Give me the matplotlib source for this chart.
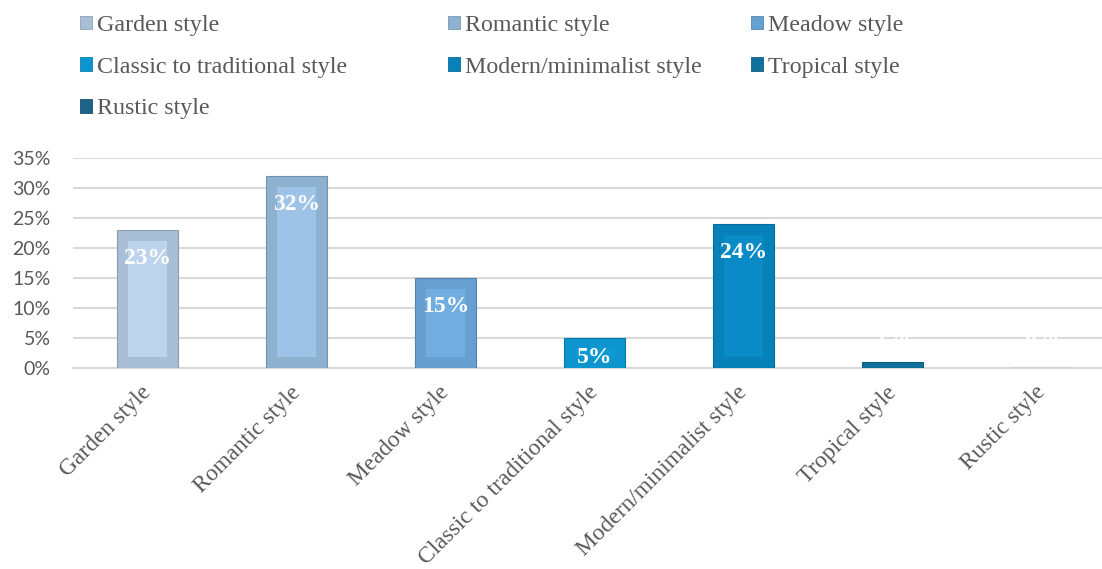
import matplotlib
matplotlib.use("Agg")
import matplotlib.pyplot as plt
import matplotlib.colors as mcolors
import matplotlib.transforms as mtransforms
from matplotlib.patches import Patch
from matplotlib.ticker import FuncFormatter

# Survey: preferred garden style (share of respondents, %)
categories = [
    "Garden style",
    "Romantic style",
    "Meadow style",
    "Classic to traditional style",
    "Modern/minimalist style",
    "Tropical style",
    "Rustic style",
]
shares = [23, 32, 15, 5, 24, 1, 0]
y_ticks = [0, 5, 10, 15, 20, 25, 30, 35]

outer_colors = ["#A9BFD8", "#8FB1D0", "#679FD0", "#0C95CE", "#0682B8", "#12709C", "#1F6287"]
inner_colors = ["#BDD4EC", "#9DC3E6", "#71ADE0", "#1299D2", "#0A8AC6", "#12709C", "#1F6287"]

SERIF = "Liberation Serif"
TEXT_GREY = "#595959"
GRID_GREY = "#D9D9D9"

W, H = 1102, 569
fig = plt.figure(figsize=(W / 100, H / 100), dpi=100)
fig.patch.set_facecolor("white")

# plot area in pixels: left 73, bottom 368 (from top), 149 px per category
left_px, bottom_px, top_px, cat_px = 73, 368, 158, 149
ax = fig.add_axes([left_px / W, 1 - bottom_px / H,
                   cat_px * len(categories) / W, (bottom_px - top_px) / H])

n = len(categories)
xs = list(range(n))
bar_w = 61 / cat_px
inset_x = 11 / cat_px
inset_y = 11 / ((bottom_px - top_px) / 35)

ax.set_xlim(-0.5, n - 0.5)
ax.set_ylim(0, 35)


def darker(c, f=0.82):
    r, g, b = mcolors.to_rgb(c)
    return (r * f, g * f, b * f)


for x, v, oc, ic in zip(xs, shares, outer_colors, inner_colors):
    ax.bar(x, v, width=bar_w, color=oc, edgecolor=darker(oc), linewidth=0.8, zorder=3)
    if v > 2 * inset_y:
        ax.bar(x, v - 2 * inset_y, bottom=inset_y, width=bar_w - 2 * inset_x,
               color=ic, linewidth=0, zorder=4)
    # value label inside the top end of the bar
    if v >= 3:
        ypos = max(v - 4.7, 1.8)
    else:
        ypos = 5.2
    ax.text(x, ypos, f"{v}%", ha="center", va="center", color="white",
            fontsize=17, fontweight="bold", family=SERIF, zorder=6)

ax.set_yticks(y_ticks)
ax.yaxis.set_major_formatter(FuncFormatter(lambda v, p: f"{v:.0f}%"))
ax.grid(axis="y", color=GRID_GREY, linewidth=1.5, zorder=0)
ax.set_axisbelow(True)
for s in ["left", "right", "top"]:
    ax.spines[s].set_visible(False)
ax.spines["bottom"].set_color(GRID_GREY)
ax.spines["bottom"].set_linewidth(1.5)
ax.tick_params(axis="both", length=0)
ax.tick_params(axis="y", pad=16, labelsize=14, labelcolor=TEXT_GREY)
for lab in ax.get_yticklabels():
    lab.set_family("Lato")

ax.set_xticks(xs)
ax.set_xticklabels(categories, rotation=45, ha="right", va="top",
                   rotation_mode="anchor", fontsize=16.8, family=SERIF, color=TEXT_GREY)
ax.tick_params(axis="x", pad=10)
shift = mtransforms.ScaledTranslation(-7 / 100, 0, fig.dpi_scale_trans)
for lab in ax.get_xticklabels():
    lab.set_transform(lab.get_transform() + shift)

# legend: three columns filled row by row
handles = [Patch(facecolor=c, edgecolor=darker(c, 0.85), linewidth=0.6) for c in outer_colors]
columns = [[0, 3, 6], [1, 4], [2, 5]]
col_x = [80, 448, 751]
for cx, idxs in zip(col_x, columns):
    fig.legend([handles[i] for i in idxs], [categories[i] for i in idxs],
               loc="upper left", bbox_to_anchor=(cx / W, 1 - 15 / H),
               frameon=False, ncol=1, prop={"family": SERIF, "size": 17.3},
               labelcolor=TEXT_GREY, handlelength=0.5, handleheight=0.5,
               handletextpad=0.2, labelspacing=0.86, borderaxespad=0,
               borderpad=0)

fig.savefig("out.png", dpi=100, facecolor="white")
